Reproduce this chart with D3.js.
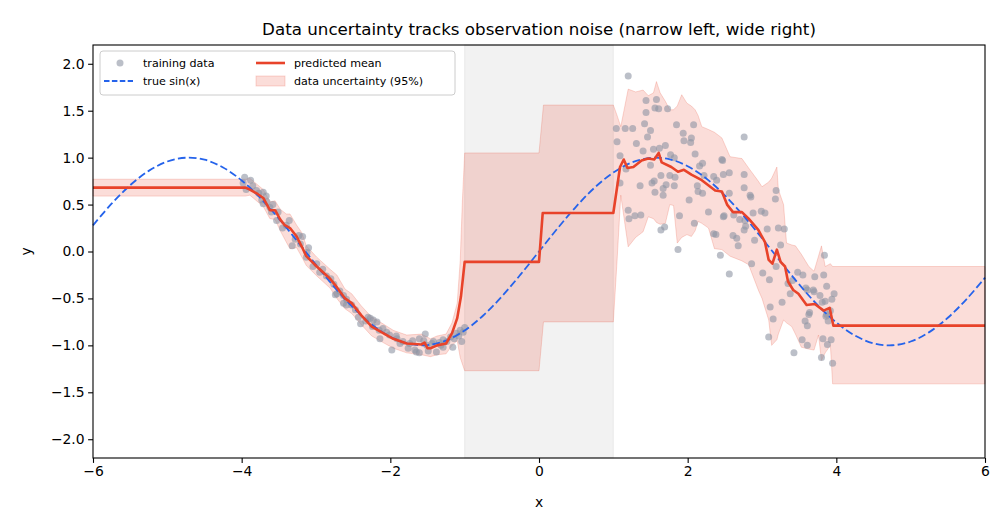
<!DOCTYPE html>
<html>
<head>
<meta charset="utf-8">
<script src="https://cdn.jsdelivr.net/npm/d3@7"></script>
<style>
  body { margin: 0; background: #fff; }
  svg text { font-family: "DejaVu Sans", sans-serif; fill: #000; }
</style>
</head>
<body>
<div id="chart"></div>
<script>
// ---- data ----
const trainX = [
  -3.96,-3.88,-3.98,-3.94,-3.80,-3.71,-3.67,-3.73,-3.71,-3.66,-3.58,-3.60,-3.51,-3.53,-3.45,-3.36,-3.32,-3.23,-3.18,-3.21,
  -3.10,-3.12,-3.13,-3.04,-2.99,-2.91,-2.80,-2.76,-2.74,-2.72,-2.63,-2.59,-2.52,-2.43,-2.40,-2.27,-2.24,-2.18,-2.15,-2.05,
  -2.01,-1.98,-1.91,-1.83,-1.74,-1.67,-1.65,-1.61,-1.53,-1.51,-1.49,-1.44,-1.38,-1.32,-1.29,-1.24,-1.19,-1.16,-1.11,-1.06,
  -1.04,-1.00,-2.63,-2.23,-2.14,-1.61,-2.59,-2.30,-1.87,-1.76,-1.29,-3.85,-3.77,-3.62,-3.40,-3.28,-2.95,-2.86,-2.68,-2.47,
  -2.33,-2.10,-1.92,-1.70,-1.55,-1.42,-1.34,-1.14,-1.08,-1.02,
  1.20,1.44,1.58,1.44,1.56,1.61,1.73,1.04,1.16,1.26,1.42,1.50,1.46,1.85,1.94,2.08,2.05,1.95,2.04,1.05,
  1.31,1.40,1.54,1.62,1.70,1.09,1.17,1.50,1.77,1.82,2.10,2.20,2.16,2.46,1.64,1.76,1.83,2.22,2.35,1.09,
  1.36,1.55,1.52,1.71,1.67,1.82,2.13,2.14,2.20,1.56,1.67,2.02,1.20,1.21,1.29,1.37,1.89,2.28,2.48,2.09,
  1.69,1.64,2.35,1.87,2.44,2.76,2.47,2.56,2.48,2.39,2.76,2.76,3.19,2.56,2.84,2.85,3.18,2.99,3.04,2.88,
  2.49,2.62,2.70,2.77,2.78,2.76,3.07,3.22,3.30,2.61,2.66,2.90,2.68,3.25,2.38,3.19,2.86,3.84,3.48,3.55,
  3.01,2.56,3.71,3.83,3.10,3.35,3.41,3.59,3.69,3.87,3.97,3.78,3.94,3.85,3.81,3.38,3.27,3.11,3.09,3.43,
  3.80,3.95,3.15,3.58,3.61,3.63,3.64,3.54,3.61,3.82,3.88,3.93,3.87,3.70,3.61,3.92,3.86,3.89
];
const trainY = [
  0.79,0.76,0.73,0.66,0.65,0.63,0.59,0.55,0.51,0.53,0.50,0.42,0.42,0.33,0.25,0.33,0.06,0.17,0.16,0.08,
  0.04,-0.01,-0.06,-0.16,-0.13,-0.19,-0.29,-0.35,-0.46,-0.45,-0.55,-0.51,-0.57,-0.70,-0.77,-0.71,-0.80,-0.75,-0.84,-0.86,
  -0.89,-1.05,-0.93,-0.96,-0.98,-1.05,-1.07,-0.93,-0.88,-1.00,-1.06,-0.98,-1.07,-1.00,-0.94,-0.96,-0.91,-1.02,-0.87,-0.84,
  -0.96,-0.81,-0.47,-0.73,-0.93,-1.08,-0.57,-0.70,-0.98,-1.03,-1.02,0.70,0.62,0.47,0.28,0.13,-0.22,-0.26,-0.42,-0.62,
  -0.74,-0.82,-0.90,-0.95,-0.95,-0.96,-0.97,-0.93,-0.90,-0.86,
  1.87,1.61,1.62,1.48,1.53,1.52,1.52,1.31,1.31,1.31,1.36,1.29,1.22,1.35,1.26,1.35,1.21,1.18,1.16,1.17,
  1.15,1.07,1.09,1.10,1.13,1.02,0.88,0.92,1.03,1.00,1.04,0.94,0.91,0.98,0.81,0.81,0.79,0.81,0.80,0.73,
  0.70,0.75,0.73,0.71,0.67,0.70,0.70,0.64,0.62,0.63,0.60,0.55,0.44,0.35,0.38,0.39,0.38,0.42,0.37,0.30,
  0.26,0.23,0.19,0.02,-0.04,1.22,0.97,0.84,0.82,0.76,0.82,0.68,0.65,0.62,0.60,0.58,0.56,0.43,0.41,0.41,
  0.38,0.39,0.34,0.33,0.27,0.23,0.24,0.25,0.24,0.17,0.14,0.12,0.06,0.07,0.18,-0.16,-0.13,-0.04,-0.22,-0.25,
  -0.23,-0.24,-0.27,-0.25,-0.30,-0.34,-0.31,-0.39,-0.41,-0.37,-0.45,-0.47,-0.51,-0.53,-0.54,-0.45,-0.54,-0.59,-0.91,-1.08,
  -1.13,-1.19,-0.72,-0.74,-0.79,-0.67,-0.65,-0.94,-1.00,-0.93,-0.99,-0.94,-0.67,-0.43,-0.41,-0.63,-0.69,-0.74
];

const sinX = [-6,-5.75,-5.5,-5.25,-5,-4.75,-4.5,-4.25,-4,-3.75,-3.5,-3.25,-3,-2.75,-2.5,-2.25,-2,-1.75,-1.5,-1.25,-1,-0.75,-0.5,-0.25,
  0,0.25,0.5,0.75,1,1.25,1.5,1.75,2,2.25,2.5,2.75,3,3.25,3.5,3.75,4,4.25,4.5,4.75,5,5.25,5.5,5.75,6];
const sinY = [0.279,0.509,0.706,0.859,0.959,0.999,0.978,0.895,0.757,0.572,0.351,0.108,-0.141,-0.382,-0.598,-0.778,-0.909,-0.984,-0.997,-0.949,-0.841,-0.682,-0.479,-0.247,
  0,0.247,0.479,0.682,0.841,0.949,0.997,0.984,0.909,0.778,0.598,0.382,0.141,-0.108,-0.351,-0.572,-0.757,-0.895,-0.978,-0.999,-0.959,-0.859,-0.706,-0.509,-0.279];

const meanX = [-6,-3.95,-3.89,-3.80,-3.71,-3.62,-3.55,-3.48,-3.42,-3.35,-3.26,-3.19,-3.13,-2.99,-2.81,-2.72,-2.61,-2.52,-2.39,-2.25,
  -2.12,-1.96,-1.78,-1.58,-1.54,-1.50,-1.46,-1.37,-1.25,-1.17,-1.10,-1.05,-1.00,0.00,0.05,1.00,1.09,1.14,1.19,1.27,
  1.38,1.47,1.55,1.61,1.65,1.78,1.87,1.95,2.05,2.19,2.37,2.46,2.53,2.61,2.73,2.82,2.95,3.04,3.09,3.14,
  3.20,3.25,3.31,3.35,3.42,3.49,3.60,3.71,3.83,3.91,3.96,6];
const meanY = [0.68,0.68,0.66,0.62,0.57,0.44,0.44,0.34,0.28,0.25,0.16,0.05,-0.05,-0.16,-0.29,-0.38,-0.50,-0.55,-0.68,-0.80,
  -0.86,-0.93,-0.98,-0.99,-0.97,-1.03,-1.03,-1.00,-0.98,-0.87,-0.71,-0.48,-0.11,-0.11,0.41,0.41,0.90,0.98,0.89,0.90,
  0.97,0.99,0.98,1.05,0.95,0.90,0.85,0.87,0.82,0.76,0.65,0.64,0.50,0.42,0.42,0.35,0.23,0.10,-0.09,-0.13,
  0.02,-0.11,-0.16,-0.32,-0.41,-0.45,-0.57,-0.56,-0.63,-0.60,-0.79,-0.79];

const bandX = [-6,-3.95,-3.89,-3.71,-3.62,-3.55,-3.48,-3.40,-3.35,-3.26,-3.19,-3.13,-2.99,-2.81,-2.72,-2.61,-2.52,-2.39,-2.25,-2.12,
  -1.96,-1.78,-1.58,-1.46,-1.37,-1.25,-1.17,-1.10,-1.06,-1.03,-1.00,0.00,0.06,1.00,1.05,1.10,1.20,1.30,1.40,1.47,
  1.54,1.58,1.63,1.70,1.76,1.81,1.86,1.92,1.99,2.05,2.10,2.14,2.19,2.28,2.36,2.46,2.57,2.73,2.82,2.95,
  3.00,3.09,3.13,3.20,3.22,3.29,3.33,3.40,3.45,3.53,3.63,3.70,3.76,3.80,3.85,3.92,3.95,6];
const bandLo = [0.59,0.59,0.60,0.48,0.35,0.34,0.22,0.10,0.03,0.04,-0.06,-0.15,-0.26,-0.39,-0.50,-0.61,-0.66,-0.78,-0.90,-0.96,
  -1.03,-1.08,-1.10,-1.12,-1.10,-1.09,-1.00,-0.95,-1.13,-1.20,-1.27,-1.27,-0.75,-0.75,-0.10,0.60,0.05,0.15,0.21,0.37,
  0.35,0.31,0.29,0.30,0.50,0.49,0.09,0.15,0.18,0.16,0.22,0.32,0.30,0.25,0.03,0.02,-0.05,-0.10,-0.14,-0.41,
  -0.50,-0.73,-1.00,-0.94,-0.88,-0.73,-0.76,-0.80,-0.88,-1.02,-1.04,-1.05,-0.89,-1.16,-1.08,-1.00,-1.41,-1.41];
const bandHi = [0.77,0.77,0.78,0.66,0.53,0.54,0.45,0.40,0.40,0.28,0.20,0.06,-0.06,-0.19,-0.25,-0.40,-0.45,-0.58,-0.70,-0.76,
  -0.84,-0.89,-0.88,-0.93,-0.90,-0.88,-0.76,-0.55,-0.10,0.55,1.05,1.05,1.56,1.56,1.45,1.33,1.73,1.70,1.72,1.66,
  1.69,1.81,1.69,1.60,1.51,1.51,1.55,1.67,1.58,1.55,1.51,1.45,1.33,1.30,1.27,1.21,1.01,0.99,0.89,0.75,
  0.69,0.74,0.78,0.90,0.66,0.50,0.09,0.07,0.06,-0.03,-0.16,-0.21,-0.05,0.06,-0.16,-0.13,-0.16,-0.16];

const spanX = [-1, 1];
const xTicks = [-6, -4, -2, 0, 2, 4, 6];
const yTicks = [-2.0, -1.5, -1.0, -0.5, 0.0, 0.5, 1.0, 1.5, 2.0];

// ---- layout ----
const W = 1008, H = 528;
const margin = {top: 45, right: 23, bottom: 70, left: 93};
const width = W - margin.left - margin.right,
      height = H - margin.top - margin.bottom;

const cMean = "#e8432a", cSin = "#2563eb", cPts = "#8d94a3";
const dash = "7.7,3.3";

const svg = d3.select("#chart").append("svg")
    .attr("width", W).attr("height", H);
const g = svg.append("g").attr("transform", "translate(" + margin.left + "," + margin.top + ")");

const x = d3.scaleLinear().domain([-6, 6]).range([0, width]);
const y = d3.scaleLinear().domain([-2.2, 2.2]).range([height, 0]);

const minus = s => s.replace("-", "\u2212");

// shaded gap region
g.append("rect")
    .attr("x", x(spanX[0])).attr("y", 0)
    .attr("width", x(spanX[1]) - x(spanX[0])).attr("height", height)
    .attr("fill", "#808080").attr("fill-opacity", 0.1)
    .attr("stroke", "#808080").attr("stroke-opacity", 0.12);

// uncertainty band
const band = bandX.map((v, i) => ({x: v, lo: bandLo[i], hi: bandHi[i]}));
g.append("path")
    .datum(band)
    .attr("d", d3.area().x(d => x(d.x)).y0(d => y(d.lo)).y1(d => y(d.hi)))
    .attr("fill", cMean).attr("fill-opacity", 0.18)
    .attr("stroke", cMean).attr("stroke-opacity", 0.2).attr("stroke-width", 1);

// training points
const pts = trainX.map((v, i) => [v, trainY[i]]);
g.selectAll("circle.pt").data(pts).enter().append("circle")
    .attr("class", "pt")
    .attr("cx", d => x(d[0])).attr("cy", d => y(d[1]))
    .attr("r", 3.5)
    .attr("fill", cPts).attr("fill-opacity", 0.6);

// true sin
g.append("path")
    .datum(sinX.map((v, i) => [v, sinY[i]]))
    .attr("d", d3.line().x(d => x(d[0])).y(d => y(d[1])).curve(d3.curveCatmullRom))
    .attr("fill", "none").attr("stroke", cSin).attr("stroke-width", 1.8)
    .attr("stroke-dasharray", dash);

// predicted mean
g.append("path")
    .datum(meanX.map((v, i) => [v, meanY[i]]))
    .attr("d", d3.line().x(d => x(d[0])).y(d => y(d[1])))
    .attr("fill", "none").attr("stroke", cMean).attr("stroke-width", 2.6)
    .attr("stroke-linejoin", "round");

// axes
const xAxis = g.append("g").attr("transform", "translate(0," + height + ")")
    .call(d3.axisBottom(x).tickValues(xTicks).tickSize(4.9).tickPadding(3.5).tickFormat(d => minus(String(d))));
const yAxis = g.append("g")
    .call(d3.axisLeft(y).tickValues(yTicks).tickSize(4.9).tickPadding(3.5).tickFormat(d => minus(d3.format(".1f")(d))));
[xAxis, yAxis].forEach(a => {
  a.select(".domain").remove();
  a.selectAll("line").attr("stroke", "#000").attr("stroke-width", 1.1);
  a.selectAll("text").attr("font-size", "13.9px").attr("font-family", "DejaVu Sans").attr("fill", "#000");
});

// frame
g.append("rect").attr("width", width).attr("height", height)
    .attr("fill", "none").attr("stroke", "#000").attr("stroke-width", 1.1);

// title and labels
svg.append("text").attr("x", margin.left + width / 2).attr("y", 35)
    .attr("text-anchor", "middle").attr("font-size", "16.7px")
    .text("Data uncertainty tracks observation noise (narrow left, wide right)");
svg.append("text").attr("x", margin.left + width / 2).attr("y", 507)
    .attr("text-anchor", "middle").attr("font-size", "13.9px").text("x");
svg.append("text").attr("transform", "translate(31," + (margin.top + height / 2) + ") rotate(-90)")
    .attr("text-anchor", "middle").attr("font-size", "13.9px").text("y");

// legend
const lg = g.append("g").attr("transform", "translate(7,6)");
lg.append("rect").attr("width", 355).attr("height", 44).attr("rx", 3)
    .attr("fill", "#fff").attr("fill-opacity", 0.8).attr("stroke", "#ccc").attr("stroke-width", 1);
const fs = "11.1px";
// training data
lg.append("circle").attr("cx", 20).attr("cy", 12).attr("r", 3.5).attr("fill", cPts).attr("fill-opacity", 0.6);
lg.append("text").attr("x", 43).attr("y", 16).attr("font-size", fs).text("training data");
// true sin
lg.append("line").attr("x1", 4).attr("x2", 33).attr("y1", 30).attr("y2", 30)
    .attr("stroke", cSin).attr("stroke-width", 1.8).attr("stroke-dasharray", "5.5,2.4");
lg.append("text").attr("x", 43).attr("y", 34).attr("font-size", fs).text("true sin(x)");
// predicted mean
lg.append("line").attr("x1", 156).attr("x2", 185).attr("y1", 12).attr("y2", 12)
    .attr("stroke", cMean).attr("stroke-width", 2.6);
lg.append("text").attr("x", 194).attr("y", 16).attr("font-size", fs).text("predicted mean");
// band
lg.append("rect").attr("x", 156).attr("y", 25).attr("width", 29).attr("height", 10)
    .attr("fill", cMean).attr("fill-opacity", 0.18).attr("stroke", cMean).attr("stroke-opacity", 0.2);
lg.append("text").attr("x", 194).attr("y", 34).attr("font-size", fs).text("data uncertainty (95%)");
</script>
</body>
</html>
